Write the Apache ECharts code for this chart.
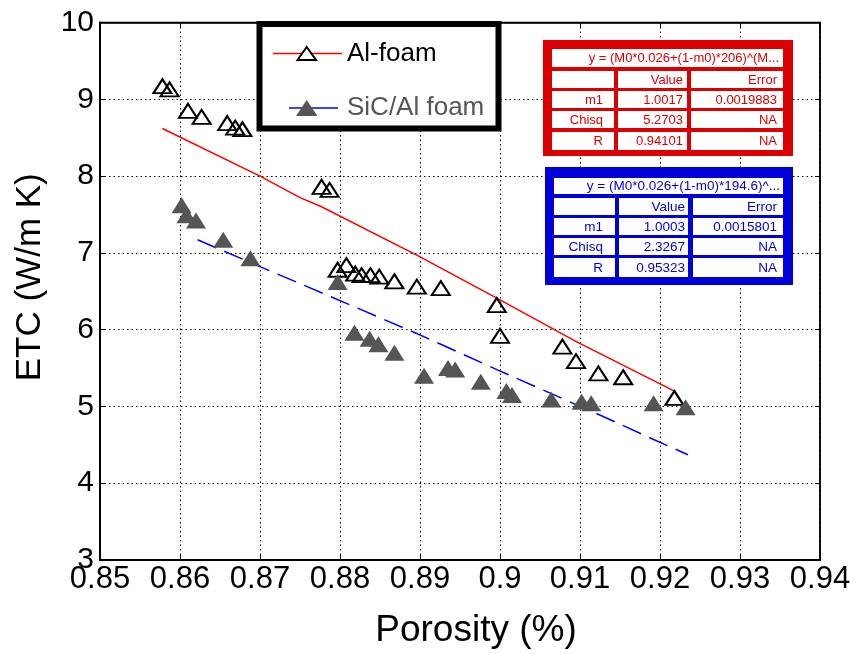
<!DOCTYPE html>
<html><head><meta charset="utf-8">
<script src="https://cdn.jsdelivr.net/npm/echarts@6/dist/echarts.min.js"></script>
<style>html,body{margin:0;padding:0;background:#fff}#c{width:862px;height:654px}</style>
</head><body><div id="c"></div>
<script>
// ---- data ----
const alPorosity = [0.8578,0.8587,0.8610,0.8627,0.8659,0.8669,0.8678,0.8777,0.8787,0.8797,0.8808,0.8819,0.8827,0.8838,0.8849,0.8868,0.8896,0.8926,0.8996,0.9000,0.9078,0.9095,0.9123,0.9154,0.9218];
const alEtc      = [9.17,9.13,8.85,8.77,8.69,8.63,8.61,7.86,7.82,6.78,6.84,6.73,6.71,6.71,6.69,6.63,6.56,6.54,6.32,5.92,5.78,5.59,5.43,5.38,5.11];
const sicPorosity = [0.8602,0.8608,0.8620,0.8654,0.8688,0.8797,0.8818,0.8837,0.8848,0.8868,0.8905,0.8935,0.8944,0.8976,0.9008,0.9015,0.9064,0.9102,0.9114,0.9192,0.9232];
const sicEtc      = [7.62,7.49,7.42,7.17,6.93,6.62,5.96,5.88,5.81,5.70,5.40,5.50,5.48,5.32,5.20,5.15,5.09,5.06,5.04,5.04,4.99];
const alFitPorosity = [0.8578,0.8700,0.8750,0.8775,0.8896,0.8996,0.9096,0.9218];
const alFitEtc      = [8.62,8.00,7.72,7.61,6.97,6.41,5.84,5.20];
const sicFitPorosity = [0.8622,0.8700,0.8750,0.8896,0.8996,0.9133,0.9192,0.9235];
const sicFitEtc      = [7.17,6.82,6.60,5.95,5.48,4.85,4.57,4.37];
const legendNames = ['Al-foam', 'SiC/Al foam'];
const xName = 'Porosity (%)';
const yName = 'ETC (W/m K)';
const xMin = 0.85, xMax = 0.94, xStep = 0.01;
const yMin = 3, yMax = 10, yStep = 1;
const tableHeader = ['', 'Value', 'Error'];
const redTitle = 'y = (M0*0.026+(1-m0)*206)^(M...';
const redRows = [['m1','1.0017','0.0019883'],['Chisq','5.2703','NA'],['R','0.94101','NA']];
const blueTitle = 'y = (M0*0.026+(1-m0)*194.6)^...';
const blueRows = [['m1','1.0003','0.0015801'],['Chisq','2.3267','NA'],['R','0.95323','NA']];

// ---- build ----
const FONT = "'Liberation Sans', Arial, sans-serif";
const zip = (a, b) => a.map((v, i) => [v, b[i]]);
const Z = 100;

function table(cfg, title, rows) {
  const kids = [];
  const [ox, oy, ow, oh] = cfg.outer;
  kids.push({type:'rect', z:Z, shape:{x:ox,y:oy,width:ow,height:oh}, style:{fill:cfg.color}});
  const [tx, ty, tw, th] = cfg.title;
  kids.push({type:'rect', z:Z+1, shape:{x:tx,y:ty,width:tw,height:th}, style:{fill:'#fff'}});
  kids.push({type:'text', z:Z+2, x:cfg.titleRight, y:ty+th/2, style:{text:title, fill:cfg.color, fontSize:cfg.fs, fontFamily:FONT, align:'right', verticalAlign:'middle'}});
  const all = [tableHeader].concat(rows);
  all.forEach((r, ri) => {
    const ry = cfg.rowY[ri], rh = cfg.rowH[ri];
    cfg.cols.forEach((c, ci) => {
      kids.push({type:'rect', z:Z+1, shape:{x:c[0],y:ry,width:c[1],height:rh}, style:{fill:'#fff'}});
      if (r[ci]) kids.push({type:'text', z:Z+2, x:cfg.textRight[ci], y:ry+rh/2+0.5, style:{text:r[ci], fill:cfg.color, fontSize:cfg.fs, fontFamily:FONT, align:'right', verticalAlign:'middle'}});
    });
  });
  return {type:'group', z:Z, children:kids};
}

const redCfg = {color:'#dc0000', fs:13, outer:[543,40,250,116], title:[552,49,231,18], titleRight:779,
  rowY:[71,91,111,132], rowH:[17,17,17,18], cols:[[552,62],[618,69],[691,92]], textRight:[603,683,777]};
const blueCfg = {color:'#0000d8', fs:13.5, outer:[545,167,248,118], title:[554,178,229,16], titleRight:780,
  rowY:[198,218,238,258], rowH:[17,17,17,19], cols:[[554,61],[619,69],[693,90]], textRight:[603,685,777]};

const legendGroup = {type:'group', z:Z, children:[
  {type:'rect', z:Z, shape:{x:259.5,y:24,width:239,height:104.5}, style:{fill:'#fff', stroke:'#000', lineWidth:6}},
  {type:'line', z:Z+1, shape:{x1:273,y1:53.5,x2:342,y2:53.5}, style:{stroke:'#ff0000', lineWidth:1.5}},
  {type:'polygon', z:Z+2, shape:{points:[[306.7,47],[297.5,60],[316,60]]}, style:{fill:'#fff', stroke:'#000', lineWidth:2}},
  {type:'text', z:Z+2, x:347, y:54, style:{text:legendNames[0], fill:'#000', fontSize:26, fontFamily:FONT, verticalAlign:'middle'}},
  {type:'line', z:Z+1, shape:{x1:289,y1:108,x2:338,y2:108}, style:{stroke:'#0000ff', lineWidth:1.5}},
  {type:'polygon', z:Z+2, shape:{points:[[306.7,100],[296,116],[317.5,116]]}, style:{fill:'#555'}},
  {type:'text', z:Z+2, x:347, y:108, style:{text:legendNames[1], fill:'#555', fontSize:26, fontFamily:FONT, verticalAlign:'middle'}}
]};

const grid = {left:100, top:22.5, width:720, height:540.2, show:true, borderColor:'#000', borderWidth:1.5, backgroundColor:'#fff'};
const dotted = {show:true, lineStyle:{color:'#000', type:[1.5,3], width:1}};
const fmtX = v => String(parseFloat(v.toFixed(2)));

const option = {
  animation:false,
  backgroundColor:'#fff',
  grid: grid,
  xAxis: [
    {type:'value', min:xMin, max:xMax, interval:xStep, position:'bottom',
     axisLine:{show:true, onZero:false, lineStyle:{color:'#000', width:2}},
     axisTick:{show:true, inside:true, length:5, lineStyle:{color:'#000'}},
     axisLabel:{color:'#000', fontSize:31, fontFamily:FONT, margin:4, formatter:fmtX},
     splitLine:dotted,
     name:xName, nameLocation:'middle', nameGap:52,
     nameTextStyle:{color:'#000', fontSize:37, fontFamily:FONT, padding:[0,0,0,32]}},
    {type:'value', min:xMin, max:xMax, interval:xStep, position:'top',
     axisLine:{show:true, onZero:false, lineStyle:{color:'#000', width:1.5}},
     axisTick:{show:true, inside:true, length:5, lineStyle:{color:'#000'}},
     axisLabel:{show:false}, splitLine:{show:false}}
  ],
  yAxis: [
    {type:'value', min:yMin, max:yMax, interval:yStep, position:'left',
     axisLine:{show:true, onZero:false, lineStyle:{color:'#000', width:2}},
     axisTick:{show:true, inside:true, length:5, lineStyle:{color:'#000'}},
     axisLabel:{color:'#000', fontSize:30, fontFamily:FONT, margin:6},
     splitLine:dotted,
     name:yName, nameLocation:'middle', nameGap:52, nameRotate:90,
     nameTextStyle:{color:'#000', fontSize:35, fontFamily:FONT, padding:[0,0,0,28]}},
    {type:'value', min:yMin, max:yMax, interval:yStep, position:'right',
     axisLine:{show:true, onZero:false, lineStyle:{color:'#000', width:1.5}},
     axisTick:{show:true, inside:true, length:5, lineStyle:{color:'#000'}},
     axisLabel:{show:false}, splitLine:{show:false}}
  ],
  series: [
    {name:legendNames[0]+' fit', type:'line', data:zip(alFitPorosity, alFitEtc), showSymbol:false, symbol:'none',
     lineStyle:{color:'#ff0000', width:1.5}, z:3},
    {name:legendNames[1]+' fit', type:'line', data:zip(sicFitPorosity, sicFitEtc), showSymbol:false, symbol:'none',
     lineStyle:{color:'#0000ff', width:1.5, type:[20,9]}, z:3},
    {name:legendNames[0], type:'scatter', data:zip(alPorosity, alEtc), symbol:'triangle', symbolSize:[18,14],
     itemStyle:{color:'rgba(0,0,0,0)', borderColor:'#000', borderWidth:2, opacity:1}, z:4},
    {name:legendNames[1], type:'scatter', data:zip(sicPorosity, sicEtc), symbol:'triangle', symbolSize:[20,16],
     itemStyle:{color:'#555555', opacity:1}, z:5}
  ],
  graphic: [legendGroup, table(redCfg, redTitle, redRows), table(blueCfg, blueTitle, blueRows)]
};

const chart = echarts.init(document.getElementById('c'), null, {renderer:'canvas'});
chart.setOption(option);
</script>
</body></html>
